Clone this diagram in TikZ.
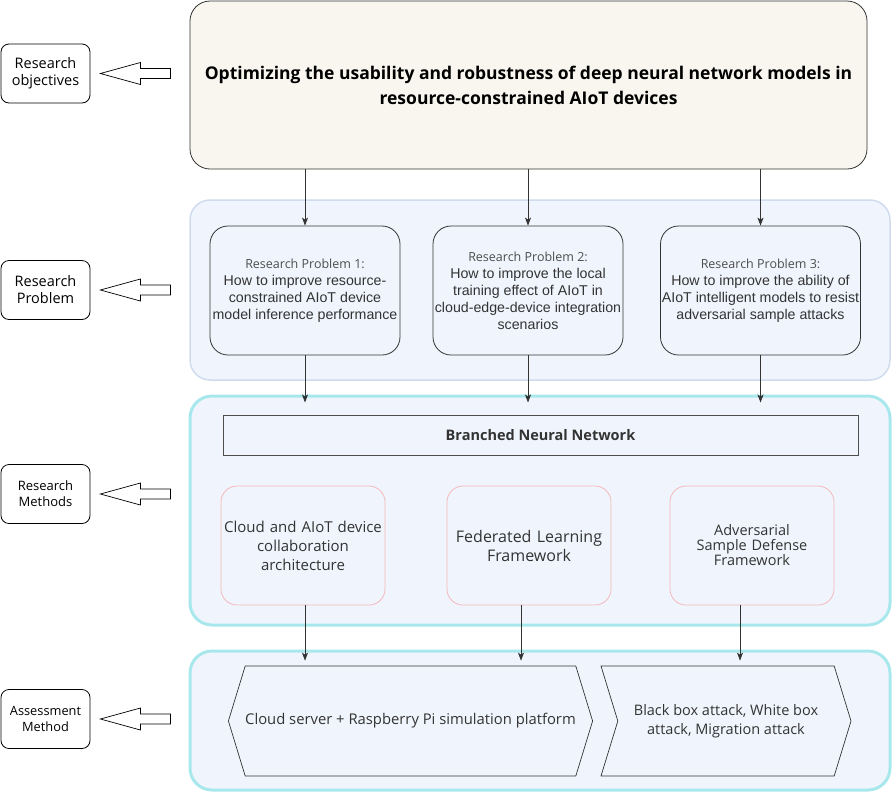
\documentclass[tikz,border=0pt]{standalone}
\usepackage{fontspec}
\setmainfont{Open Sans}
\newfontfamily\bodyfont{Liberation Sans}
\usetikzlibrary{arrows.meta,shapes.symbols,calc}

\definecolor{goalfill}{HTML}{F8F6EE}
\definecolor{panelfill}{HTML}{F0F5FD}
\definecolor{panelline}{HTML}{D0DCEE}
\definecolor{cyanline}{HTML}{A8E8EC}
\definecolor{pinkline}{HTML}{F4B8BC}
\definecolor{inkgray}{HTML}{333333}
\definecolor{softgray}{HTML}{4D4D4D}

% small heading used inside each research-problem box
\newcommand{\probhd}{\rmfamily\fontsize{12.5}{17}\selectfont\color{softgray}}

\begin{document}
\begin{tikzpicture}[x=1pt,y=-1pt,
  sidelabel/.style={draw=black, line width=0.8pt, rounded corners=8pt,
    minimum width=89pt, minimum height=59pt, align=center, inner sep=0pt,
    font=\fontsize{14.5}{17}\selectfont},
  hollow/.style={draw=black, line width=0.7pt, fill=white},
  goalbox/.style={draw=inkgray, line width=0.8pt, rounded corners=20pt, fill=goalfill,
    minimum width=677pt, minimum height=168pt, align=center, inner sep=0pt,
    font=\bfseries\fontsize{17.5}{25}\selectfont},
  softpanel/.style={draw=panelline, line width=1.5pt, rounded corners=20pt, fill=panelfill,
    minimum width=700pt, inner sep=0pt},
  cyanpanel/.style={draw=cyanline, line width=3pt, rounded corners=22pt, fill=panelfill,
    minimum width=700pt, inner sep=0pt},
  probbox/.style={draw=inkgray, line width=0.8pt, rounded corners=18pt, fill=panelfill,
    minimum height=129pt, align=center, inner sep=0pt, text=inkgray,
    font=\bodyfont\fontsize{14.2}{17}\selectfont},
  bnnbox/.style={draw=softgray, line width=0.8pt, fill=panelfill, minimum width=635pt,
    minimum height=40pt, inner sep=0pt, text=inkgray,
    font=\bfseries\fontsize{14.5}{17}\selectfont},
  methbox/.style={draw=pinkline, line width=0.8pt, rounded corners=16pt, fill=panelfill,
    minimum width=164pt, minimum height=119pt, text width=162pt, align=center,
    inner sep=0pt, text=inkgray},
  platform/.style={draw=inkgray, line width=0.7pt, fill=panelfill, shape=signal,
    signal pointer angle=146, minimum height=110pt, inner sep=0pt, align=center,
    text=inkgray},
  arr/.style={draw=inkgray, line width=0.8pt, -{Stealth[length=8pt,width=6pt,inset=2pt]}}
]
\useasboundingbox (0,0) rectangle (893,793);

% left-hand column of stage labels
\node[sidelabel] (lobj)  at (45.5,73.5) {Research\\objectives};
\node[sidelabel] (lprob) at (45.5,290)  {Research\\Problem};
\node[sidelabel, font=\fontsize{13}{16}\selectfont] (lmeth) at (45.5,494) {Research\\Methods};
\node[sidelabel, font=\fontsize{12.8}{16}\selectfont] (lass) at (45.5,719) {Assessment\\Method};

% hollow block arrows pointing at the stage labels
\foreach \lab in {lobj,lprob,lmeth,lass}{
  \draw[hollow] ($(\lab.east)+(10,0)$) -- ++(40,-11) -- ++(0,6) -- ++(30,0)
    -- ++(0,10) -- ++(-30,0) -- ++(0,6) -- cycle;
}

% overall objective
\node[goalbox] (goal) at (528.5,85)
  {Optimizing the usability and robustness of deep neural network models in\\resource-constrained AIoT devices};

% research problems
\node[softpanel, minimum height=180pt] (ppanel) at (540,290) {};
\node[probbox, minimum width=190pt] (p1) at (305,290.5)
  {{\probhd Research Problem 1:}\\How to improve resource-\\constrained AIoT device\\model inference performance};
\node[probbox, minimum width=190pt] (p2) at (528,290.5)
  {{\probhd Research Problem 2:}\\How to improve the local\\training effect of AIoT in\\cloud-edge-device integration\\scenarios};
\node[probbox, minimum width=200pt] (p3) at (760.5,290.5)
  {{\probhd Research Problem 3:}\\How to improve the ability of\\AIoT intelligent models to resist\\adversarial sample attacks};

% research methods
\node[cyanpanel, minimum height=229pt] (mpanel) at (540,510.5) {};
\node[bnnbox] (bnn) at (540.5,435) {Branched Neural Network};
\node[methbox, font=\fontsize{15}{19}\selectfont] (m1) at (303,545.5)
  {Cloud and AIoT device\\collaboration\\architecture};
\node[methbox, font=\fontsize{16}{19}\selectfont] (m2) at (529,545.5)
  {Federated Learning\\Framework};
\node[methbox, font=\fontsize{14.5}{15}\selectfont] (m3) at (752,545.5)
  {Adversarial\\Sample Defense\\Framework};

% assessment
\node[cyanpanel, minimum height=139pt] (apanel) at (540,720.5) {};
\node[platform, signal to=east and west, minimum width=359pt,
  font=\fontsize{14.8}{19}\selectfont] (a1) at (410.5,721)
  {Cloud server + Raspberry Pi simulation platform};
\node[platform, signal from=west, signal to=east, minimum width=250pt,
  font=\fontsize{14.5}{19}\selectfont] (a2) at (726,721)
  {Black box attack, White box\\attack, Migration attack};

% connectors between the stages
\foreach \p in {p1,p2,p3}{
  \draw[arr] (goal.south -| \p.north) -- (\p.north);
  \draw[arr] (\p.south) -- ($(\p.south |- mpanel.north)+(0,8)$);
}
\draw[arr] ([xshift=2pt]m1.south) -- ($([xshift=2pt]m1.south |- a1.north)+(0,-5)$);
\draw[arr] ([xshift=-8pt]m2.south) -- ($([xshift=-8pt]m2.south |- a1.north)+(0,-5)$);
\draw[arr] ([xshift=-12pt]m3.south) -- ($([xshift=-12pt]m3.south |- a2.north)+(0,-5)$);
\end{tikzpicture}
\end{document}
